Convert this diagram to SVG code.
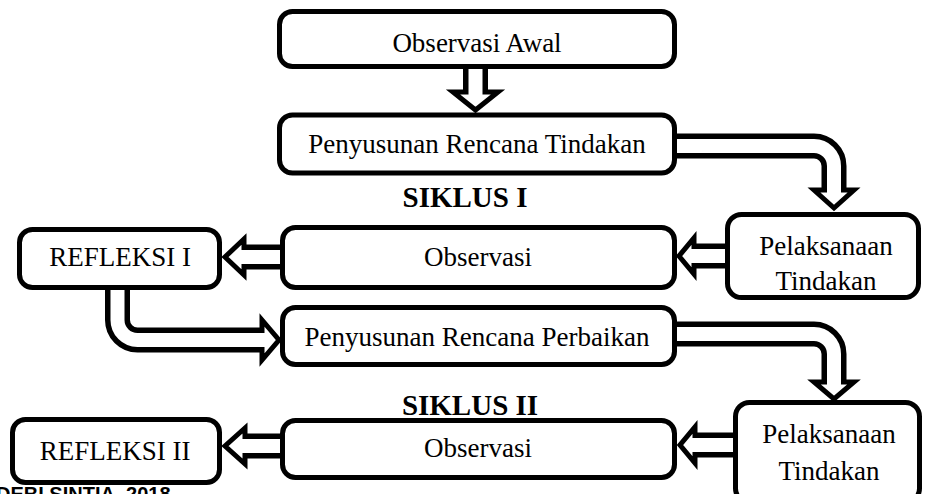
<svg xmlns="http://www.w3.org/2000/svg" width="925" height="494" viewBox="0 0 925 494">
<style>
.box{fill:#fff;stroke:#000;stroke-width:5}
.t{font-family:"Liberation Serif","Times New Roman",serif;font-size:27px;fill:#000;text-anchor:middle}
.b{font-family:"Liberation Serif","Times New Roman",serif;font-size:29px;font-weight:bold;fill:#000;text-anchor:middle}
.sh{fill:none;stroke:#000;stroke-width:25}
.shi{fill:none;stroke:#fff;stroke-width:14}
.hd{fill:#fff;stroke:#000;stroke-width:5;stroke-linejoin:miter}
</style>
<rect width="925" height="494" fill="#fff"/>
<g id="connectors">
  <path class="sh" d="M475.5,66 V92"/>
  <polygon class="hd" points="453,92 498,92 475.5,110"/>
  <path class="shi" d="M475.5,66 V96"/>

  <path class="sh" d="M675,146 H814 A20,20 0 0 1 834,166 V190"/>
  <polygon class="hd" points="814,190 854,190 834,208"/>
  <path class="shi" d="M675,146 H814 A20,20 0 0 1 834,166 V194"/>

  <path class="sh" d="M727,256 H694"/>
  <polygon class="hd" points="694,238 694,274 679,256"/>
  <path class="shi" d="M727,256 H690"/>

  <path class="sh" d="M280,257 H244"/>
  <polygon class="hd" points="244,239 244,275 225,257"/>
  <path class="shi" d="M280,257 H240"/>

  <path class="sh" d="M117.5,288 V320 A20,20 0 0 0 137.5,340 H262"/>
  <polygon class="hd" points="262,320 262,360 279,340"/>
  <path class="shi" d="M117.5,288 V320 A20,20 0 0 0 137.5,340 H266"/>

  <path class="sh" d="M675,334 H814 A20,20 0 0 1 834,354 V382"/>
  <polygon class="hd" points="814,382 854,382 834,399"/>
  <path class="shi" d="M675,334 H814 A20,20 0 0 1 834,354 V386"/>

  <path class="sh" d="M735,445 H695"/>
  <polygon class="hd" points="695,427 695,463 680,445"/>
  <path class="shi" d="M735,445 H691"/>

  <path class="sh" d="M280,446 H245"/>
  <polygon class="hd" points="245,428 245,464 225,446"/>
  <path class="shi" d="M280,446 H241"/>
</g>
<g id="observasi-awal">
  <rect class="box" x="279.5" y="11.5" width="395" height="55" rx="13"/>
  <text class="t" x="477" y="52">Observasi Awal</text>
</g>
<g id="rencana-tindakan">
  <rect class="box" x="279.5" y="115" width="395" height="58" rx="13"/>
  <text class="t" x="477" y="153">Penyusunan Rencana Tindakan</text>
</g>
<g id="siklus-1">
  <text class="b" x="465" y="207">SIKLUS I</text>
</g>
<g id="refleksi-1">
  <rect class="box" x="19.5" y="229.5" width="200" height="58" rx="13"/>
  <text class="t" x="120" y="266">REFLEKSI I</text>
</g>
<g id="observasi-1">
  <rect class="box" x="282.5" y="227.5" width="392" height="60" rx="13"/>
  <text class="t" x="478" y="266">Observasi</text>
</g>
<g id="pelaksanaan-1">
  <rect class="box" x="727.5" y="214.5" width="191" height="83" rx="14"/>
  <text class="t" x="826" y="255">Pelaksanaan</text>
  <text class="t" x="826" y="290">Tindakan</text>
</g>
<g id="rencana-perbaikan">
  <rect class="box" x="282.5" y="307.5" width="392" height="57" rx="13"/>
  <text class="t" x="477" y="346">Penyusunan Rencana Perbaikan</text>
</g>
<g id="siklus-2">
  <text class="b" x="470" y="415">SIKLUS II</text>
</g>
<g id="refleksi-2">
  <rect class="box" x="12.5" y="419.5" width="207" height="63" rx="13"/>
  <text class="t" x="115" y="460">REFLEKSI II</text>
</g>
<g id="observasi-2">
  <rect class="box" x="282.5" y="420.5" width="392" height="57" rx="13"/>
  <text class="t" x="478" y="457">Observasi</text>
</g>
<g id="pelaksanaan-2">
  <rect class="box" x="735.5" y="402.5" width="184" height="100" rx="14"/>
  <text class="t" x="829" y="443">Pelaksanaan</text>
  <text class="t" x="829" y="480">Tindakan</text>
</g>
<g id="caption">
  <text x="-4" y="501" font-family="Liberation Sans, Arial, sans-serif" font-size="20" font-weight="bold" fill="#000">DEBI SINTIA, 2018</text>
</g>
</svg>
